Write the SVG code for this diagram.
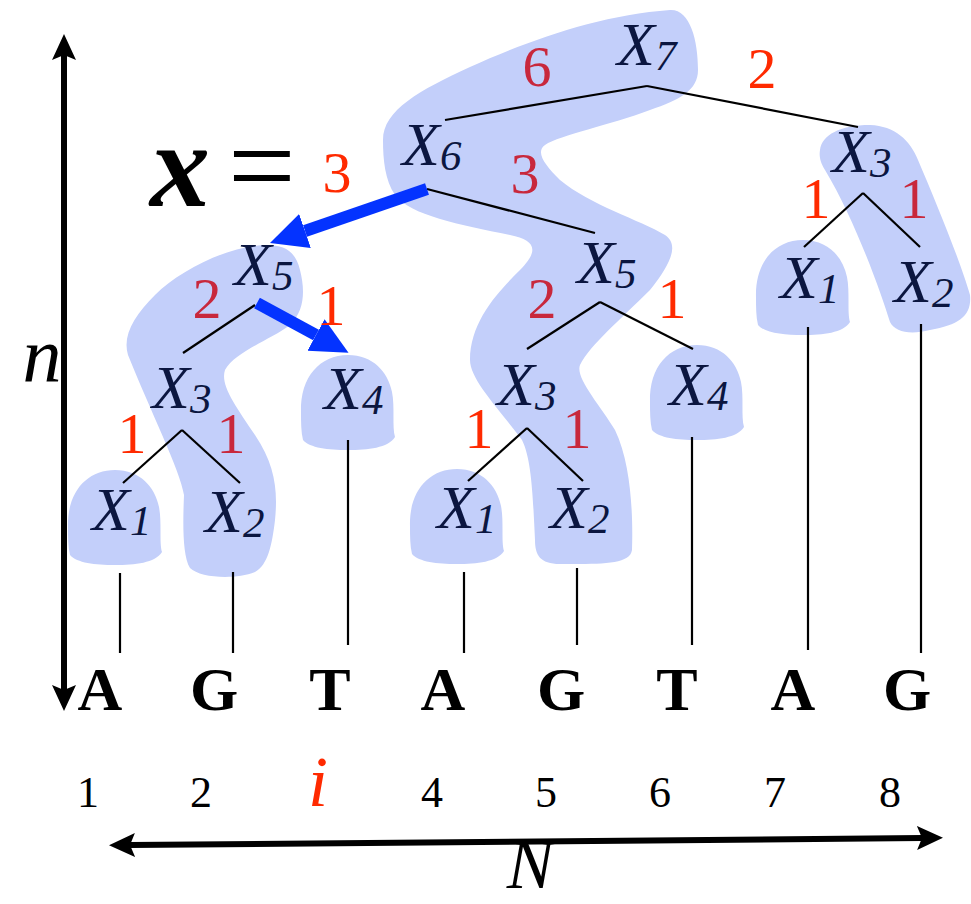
<svg xmlns="http://www.w3.org/2000/svg" xmlns:xlink="http://www.w3.org/1999/xlink" width="971" height="904" viewBox="0 0 971 904">
<style>
.hl{fill:#c3cffa}
.lbl{font-family:"Liberation Serif","Times New Roman",serif;font-style:italic;font-size:62px;fill:#0b1640}
.sub{font-size:43px}
.w{font-family:"Liberation Serif","Times New Roman",serif;font-size:58px;text-anchor:middle}
.r{fill:#ff2a00}
.c{fill:#c8283c}
.edge{stroke:#000;stroke-width:2.2;fill:none}
.base{font-family:"Liberation Serif","Times New Roman",serif;font-weight:bold;font-size:62px;text-anchor:middle;fill:#000}
.num{font-family:"Liberation Serif","Times New Roman",serif;font-size:44px;text-anchor:middle;fill:#000}
.blue{stroke:#0433ff;stroke-width:12;fill:none}
.axis{stroke:#000;stroke-width:6;fill:none}
</style>
<defs>
<path id="dome" d="M -47,10 C -48,-25 -28,-47 0,-47 C 25,-47 40,-30 44,-10 C 47,5 44,25 47,35 C 40,46 20,48 0,48 C -20,48 -38,46 -45,38 C -47,30 -47,20 -47,10 Z"/>
<marker id="bhead" markerUnits="userSpaceOnUse" markerWidth="40" markerHeight="40" viewBox="0 0 40 40" refX="0" refY="20" orient="auto">
<path d="M0,2 L37,20 L0,38 Z" fill="#0433ff"/>
</marker>
<marker id="khead" markerUnits="userSpaceOnUse" markerWidth="30" markerHeight="30" viewBox="0 0 30 30" refX="5" refY="15" orient="auto-start-reverse">
<path d="M0,3 L26,15 L0,27 L5,15 Z" fill="#000"/>
</marker>
</defs>

<g id="highlights">
<path class="hl" d="M 383,140 C 383,110 420,90 470,67 C 530,40 600,15 670,10 C 690,9 698,40 698,70 C 698,90 680,100 650,110 C 610,125 560,135 545,145 C 535,152 545,165 560,180 C 590,205 640,220 665,235 C 680,245 670,265 650,290 C 620,320 590,345 580,365 C 575,378 600,405 615,430 C 632,465 633,520 632,550 C 630,565 600,564 560,564 C 540,564 535,555 535,540 C 533,500 532,460 522,440 C 500,410 470,380 470,360 C 470,320 500,290 520,270 C 540,250 535,240 510,235 C 460,225 410,215 395,195 C 385,180 383,160 383,140 Z"/>
<path class="hl" d="M 267,245 C 285,245 296,252 300,270 C 305,290 305,310 290,325 C 270,340 235,352 225,370 C 220,385 235,405 255,435 C 275,465 278,490 275,520 C 272,545 268,565 255,572 C 235,580 200,578 190,568 C 182,555 183,520 184,495 C 180,470 150,410 128,355 C 122,335 135,315 155,295 C 180,270 230,245 267,245 Z"/>
<path class="hl" d="M 820,150 C 822,135 840,125 870,125 C 895,126 910,140 918,160 C 935,200 960,260 970,295 C 972,315 960,325 930,330 C 910,335 895,332 890,322 C 880,290 855,220 825,170 C 820,162 819,156 820,150 Z"/>
<use href="#dome" class="hl" x="115" y="517"/>
<use href="#dome" class="hl" x="348" y="402"/>
<use href="#dome" class="hl" x="457" y="516"/>
<use href="#dome" class="hl" x="697" y="392"/>
<use href="#dome" class="hl" x="803" y="287"/>
</g>

<g id="connectors">
<line class="edge" x1="647" y1="86" x2="445" y2="120"/>
<line class="edge" x1="647" y1="86" x2="858" y2="127"/>
<line class="edge" x1="427" y1="189" x2="595" y2="233"/>
<line class="edge" x1="255" y1="305" x2="183" y2="353"/>
<line class="edge" x1="182" y1="430" x2="123" y2="483"/>
<line class="edge" x1="182" y1="430" x2="240" y2="483"/>
<line class="edge" x1="600" y1="302" x2="527" y2="349"/>
<line class="edge" x1="600" y1="302" x2="693" y2="349"/>
<line class="edge" x1="527" y1="428" x2="468" y2="481"/>
<line class="edge" x1="527" y1="428" x2="583" y2="481"/>
<line class="edge" x1="863" y1="193" x2="804" y2="247"/>
<line class="edge" x1="863" y1="193" x2="920" y2="247"/>
<line class="edge" x1="120" y1="573" x2="120" y2="653"/>
<line class="edge" x1="233" y1="572" x2="233" y2="653"/>
<line class="edge" x1="348" y1="440" x2="348" y2="645"/>
<line class="edge" x1="464" y1="572" x2="464" y2="653"/>
<line class="edge" x1="577" y1="568" x2="577" y2="645"/>
<line class="edge" x1="692" y1="437" x2="692" y2="645"/>
<line class="edge" x1="808" y1="327" x2="808" y2="650"/>
<line class="edge" x1="921" y1="324" x2="921" y2="653"/>
<line class="blue" x1="427" y1="189" x2="305" y2="231" marker-end="url(#bhead)"/>
<line class="blue" x1="257" y1="303" x2="316" y2="335" marker-end="url(#bhead)"/>
</g>

<g id="axes">
<line class="axis" x1="64" y1="55" x2="64" y2="690" marker-start="url(#khead)" marker-end="url(#khead)"/>
<line class="axis" x1="130" y1="845" x2="922" y2="838" stroke-width="7" marker-start="url(#khead)" marker-end="url(#khead)"/>
</g>

<g id="X7"><text class="lbl" x="617" y="65">X<tspan class="sub" dy="5">7</tspan></text></g>
<g id="X6"><text class="lbl" x="402" y="165">X<tspan class="sub" dy="5">6</tspan></text></g>
<g id="X3r"><text class="lbl" x="832" y="172">X<tspan class="sub" dy="5">3</tspan></text></g>
<g id="X5l"><text class="lbl" x="234" y="285">X<tspan class="sub" dy="5">5</tspan></text></g>
<g id="X5m"><text class="lbl" x="577" y="283">X<tspan class="sub" dy="5">5</tspan></text></g>
<g id="X1r"><text class="lbl" x="780" y="298">X<tspan class="sub" dy="5">1</tspan></text></g>
<g id="X2r"><text class="lbl" x="894" y="302">X<tspan class="sub" dy="5">2</tspan></text></g>
<g id="X3l"><text class="lbl" x="152" y="408">X<tspan class="sub" dy="5">3</tspan></text></g>
<g id="X4l"><text class="lbl" x="324" y="409">X<tspan class="sub" dy="5">4</tspan></text></g>
<g id="X3m"><text class="lbl" x="497" y="405">X<tspan class="sub" dy="5">3</tspan></text></g>
<g id="X4m"><text class="lbl" x="669" y="405">X<tspan class="sub" dy="5">4</tspan></text></g>
<g id="X1l"><text class="lbl" x="92" y="530">X<tspan class="sub" dy="5">1</tspan></text></g>
<g id="X2l"><text class="lbl" x="205" y="532">X<tspan class="sub" dy="5">2</tspan></text></g>
<g id="X1m"><text class="lbl" x="437" y="528">X<tspan class="sub" dy="5">1</tspan></text></g>
<g id="X2m"><text class="lbl" x="550" y="528">X<tspan class="sub" dy="5">2</tspan></text></g>

<g id="weights">
<text class="w c" x="537" y="86">6</text>
<text class="w r" x="762" y="88">2</text>
<text class="w c" x="525" y="193">3</text>
<text class="w c" x="207" y="318">2</text>
<text class="w r" x="331" y="325">1</text>
<text class="w r" x="132" y="453">1</text>
<text class="w c" x="231" y="453">1</text>
<text class="w c" x="542" y="318">2</text>
<text class="w r" x="672" y="318">1</text>
<text class="w r" x="479" y="448">1</text>
<text class="w c" x="577" y="448">1</text>
<text class="w r" x="816" y="218">1</text>
<text class="w c" x="914" y="218">1</text>
</g>

<g id="formula">
<text x="150" y="206" font-family="Liberation Serif, Times New Roman, serif" font-style="italic" font-weight="bold" font-size="120" fill="#000">x</text>
<text x="228" y="206" font-family="Liberation Serif, Times New Roman, serif" font-size="120" fill="#000">=</text>
<text class="w r" x="337" y="192">3</text>
</g>

<g id="sequence">
<text class="base" x="100" y="710">A</text>
<text class="base" x="214" y="710">G</text>
<text class="base" x="330" y="710">T</text>
<text class="base" x="443" y="710">A</text>
<text class="base" x="561" y="710">G</text>
<text class="base" x="677" y="710">T</text>
<text class="base" x="793" y="710">A</text>
<text class="base" x="907" y="710">G</text>
<text class="num" x="88" y="807">1</text>
<text class="num" x="201" y="807">2</text>
<text x="318" y="806" font-family="Liberation Serif, Times New Roman, serif" font-style="italic" font-size="72" text-anchor="middle" fill="#ff2a00">i</text>
<text class="num" x="432" y="807">4</text>
<text class="num" x="546" y="807">5</text>
<text class="num" x="660" y="807">6</text>
<text class="num" x="775" y="807">7</text>
<text class="num" x="890" y="807">8</text>
</g>

<g id="axislabels">
<text x="42" y="382" font-family="Liberation Serif, Times New Roman, serif" font-style="italic" font-size="78" text-anchor="middle" fill="#000">n</text>
<text x="530" y="888" font-family="Liberation Serif, Times New Roman, serif" font-style="italic" font-size="70" text-anchor="middle" fill="#000">N</text>
</g>
</svg>
